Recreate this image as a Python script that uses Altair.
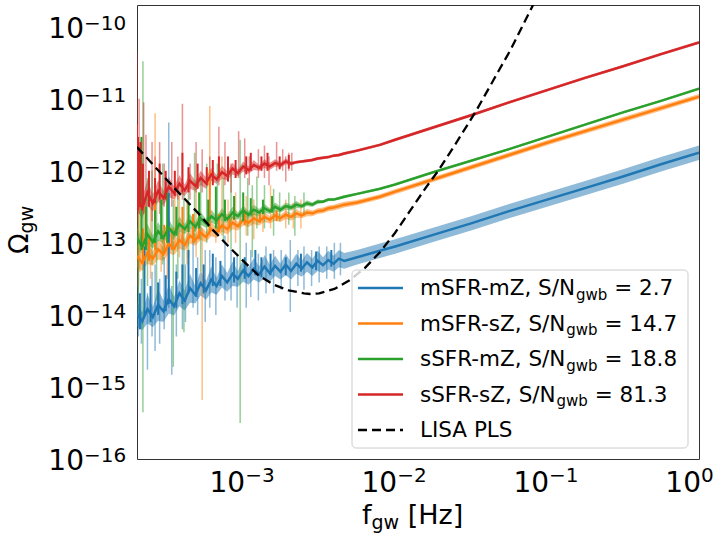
import altair as alt
import pandas as pd

FONT = "DejaVu Sans"
BLUE, ORANGE, GREEN, RED = "#1f77b4", "#ff7f0e", "#2ca02c", "#d62728"

# ---------------- data (log10 values) ----------------
log_f = [-3.700, -3.665, -3.630, -3.595, -3.560, -3.525, -3.490, -3.455, -3.420, -3.385,
         -3.350, -3.315, -3.280, -3.245, -3.210, -3.175, -3.140, -3.105, -3.070, -3.035,
         -3.000, -2.965, -2.930, -2.895, -2.860, -2.825, -2.790, -2.755, -2.720, -2.685,
         -2.650, -2.615, -2.580, -2.545, -2.510, -2.475, -2.440, -2.405, -2.370, -2.335,
         -2.25, -2.10, -2.00, -1.75, -1.50, -1.25, -1.00, -0.75, -0.50, -0.25, 0.00]

red_log = [-12.36, -12.52, -12.30, -12.45, -12.28, -12.38, -12.22, -12.31, -12.18, -12.27,
           -12.14, -12.21, -12.10, -12.17, -12.05, -12.12, -12.02, -12.07, -11.97, -12.03,
           -11.94, -11.99, -11.92, -11.96, -11.90, -11.94, -11.89, -11.92, -11.87, -11.90,
           -11.88, -11.87, -11.86, -11.85, -11.83, -11.82, -11.81, -11.79, -11.78, -11.76,
           -11.72, -11.64, -11.57, -11.40, -11.23, -11.05, -10.88, -10.71, -10.55, -10.38, -10.22]
red_hw = [0.20, 0.14, 0.18, 0.12, 0.15, 0.10, 0.14, 0.09, 0.12, 0.08,
          0.11, 0.07, 0.10, 0.08, 0.09, 0.06, 0.09, 0.06, 0.08, 0.05,
          0.07, 0.05, 0.07, 0.04, 0.06, 0.05, 0.05, 0.04, 0.04, 0.03,
          0.02, 0.02, 0.02, 0.02, 0.02, 0.02, 0.02, 0.02, 0.02, 0.02,
          0.02, 0.02, 0.02, 0.02, 0.02, 0.02, 0.02, 0.02, 0.02, 0.02, 0.02]

green_log = [-12.92, -13.06, -12.88, -12.99, -12.84, -12.93, -12.79, -12.88, -12.74, -12.81,
             -12.70, -12.78, -12.66, -12.73, -12.63, -12.69, -12.60, -12.67, -12.58, -12.63,
             -12.55, -12.61, -12.54, -12.58, -12.52, -12.56, -12.50, -12.54, -12.49, -12.51,
             -12.47, -12.49, -12.45, -12.47, -12.43, -12.43, -12.40, -12.40, -12.38, -12.36,
             -12.32, -12.25, -12.19, -12.02, -11.86, -11.70, -11.53, -11.36, -11.19, -11.03, -10.86]
green_hw = [0.15, 0.10, 0.14, 0.09, 0.13, 0.08, 0.12, 0.08, 0.11, 0.07,
            0.10, 0.07, 0.09, 0.06, 0.09, 0.06, 0.08, 0.06, 0.08, 0.05,
            0.07, 0.05, 0.07, 0.05, 0.06, 0.04, 0.06, 0.04, 0.05, 0.04,
            0.05, 0.03, 0.04, 0.03, 0.03, 0.02, 0.02, 0.02, 0.02, 0.02,
            0.015, 0.015, 0.015, 0.015, 0.015, 0.015, 0.015, 0.015, 0.015, 0.015, 0.015]

orange_log = [-13.18, -13.28, -13.14, -13.22, -13.09, -13.16, -13.02, -13.08, -12.96, -13.03,
              -12.90, -12.96, -12.86, -12.92, -12.81, -12.86, -12.76, -12.81, -12.72, -12.77,
              -12.68, -12.72, -12.66, -12.70, -12.64, -12.68, -12.62, -12.66, -12.61, -12.64,
              -12.59, -12.62, -12.58, -12.59, -12.56, -12.55, -12.52, -12.51, -12.49, -12.47,
              -12.44, -12.36, -12.29, -12.12, -11.95, -11.78, -11.61, -11.45, -11.29, -11.13, -10.97]
orange_hw = [0.16, 0.11, 0.15, 0.10, 0.14, 0.09, 0.13, 0.09, 0.12, 0.08,
             0.11, 0.08, 0.10, 0.07, 0.10, 0.07, 0.09, 0.07, 0.09, 0.06,
             0.08, 0.06, 0.08, 0.06, 0.07, 0.05, 0.07, 0.05, 0.06, 0.05,
             0.06, 0.04, 0.05, 0.04, 0.04, 0.04, 0.04, 0.04, 0.04, 0.04,
             0.035, 0.035, 0.035, 0.035, 0.035, 0.035, 0.035, 0.035, 0.035, 0.035, 0.035]

blue_log = [-13.98, -14.09, -13.92, -14.03, -13.86, -13.95, -13.78, -13.88, -13.70, -13.80,
            -13.63, -13.72, -13.56, -13.66, -13.51, -13.60, -13.46, -13.55, -13.43, -13.50,
            -13.38, -13.46, -13.36, -13.44, -13.33, -13.42, -13.32, -13.40, -13.30, -13.39,
            -13.29, -13.36, -13.27, -13.34, -13.25, -13.31, -13.24, -13.29, -13.22, -13.25,
            -13.20, -13.11, -13.05, -12.89, -12.73, -12.56, -12.40, -12.24, -12.08, -11.91, -11.75]
blue_hw = [0.18, 0.12, 0.20, 0.14, 0.22, 0.15, 0.20, 0.13, 0.18, 0.14,
           0.20, 0.12, 0.17, 0.13, 0.18, 0.12, 0.16, 0.13, 0.17, 0.11,
           0.16, 0.12, 0.15, 0.11, 0.16, 0.12, 0.14, 0.11, 0.15, 0.12,
           0.14, 0.11, 0.13, 0.12, 0.14, 0.11, 0.13, 0.11, 0.12, 0.11,
           0.10, 0.10, 0.10, 0.10, 0.10, 0.10, 0.10, 0.10, 0.10, 0.10, 0.10]

# spikes: (log10 f, log10 low end, log10 high end)
blue_light_spikes = [(-3.69, -14.3, -13.2), (-3.67, -14.4, -13.5), (-3.63, -14.76, -13.7),
                     (-3.60, -14.3, -13.4), (-3.58, -14.5, -13.3), (-3.55, -14.40, -13.5),
                     (-3.52, -14.2, -13.2), (-3.49, -13.9, -11.33), (-3.47, -14.83, -13.6),
                     (-3.44, -14.3, -13.3), (-3.40, -14.2, -12.9), (-3.38, -14.1, -13.3),
                     (-3.33, -13.9, -12.95), (-3.30, -14.0, -13.2), (-3.25, -14.1, -13.1),
                     (-3.22, -13.9, -13.1), (-3.18, -14.0, -13.2), (-3.12, -13.8, -12.9),
                     (-3.08, -13.8, -13.1), (-3.04, -13.9, -13.15), (-2.98, -13.9, -13.0),
                     (-2.95, -13.75, -13.1), (-2.90, -13.8, -13.15), (-2.85, -13.7, -13.05),
                     (-2.80, -13.7, -13.1), (-2.75, -13.65, -13.1), (-2.69, -13.96, -12.96),
                     (-2.64, -13.6, -13.1), (-2.60, -13.65, -13.05), (-2.55, -13.6, -13.1),
                     (-2.50, -13.55, -13.05), (-2.45, -13.5, -13.05), (-2.40, -13.5, -13.0),
                     (-2.36, -13.45, -13.0)]
blue_dark_spikes = [(-3.68, -14.2, -13.7), (-3.65, -14.0, -13.05), (-3.61, -14.1, -13.6),
                    (-3.56, -14.0, -13.55), (-3.51, -13.95, -13.45), (-3.49, -13.85, -12.31),
                    (-3.44, -13.9, -13.4), (-3.40, -13.85, -13.3), (-3.36, -13.7, -13.1),
                    (-3.31, -13.75, -13.35), (-3.26, -13.7, -13.3), (-3.20, -13.6, -13.15),
                    (-3.15, -13.6, -13.25), (-3.06, -13.55, -13.2), (-2.99, -13.5, -13.2),
                    (-2.92, -13.45, -13.1), (-2.88, -13.48, -13.2), (-2.82, -13.45, -13.15),
                    (-2.72, -13.45, -13.2), (-2.62, -13.4, -13.15), (-2.52, -13.38, -13.12),
                    (-2.42, -13.33, -13.1)]
orange_light_spikes = [(-3.69, -13.6, -12.6), (-3.68, -13.4, -12.3), (-3.65, -13.5, -12.4),
                       (-3.61, -13.5, -12.5), (-3.58, -13.2, -11.2), (-3.54, -13.4, -12.3),
                       (-3.50, -13.5, -12.4), (-3.45, -13.1, -12.2), (-3.42, -13.2, -12.3),
                       (-3.37, -13.3, -12.4), (-3.31, -13.2, -12.2), (-3.27, -15.18, -12.8),
                       (-3.22, -12.9, -11.10), (-3.18, -13.0, -12.3), (-3.14, -12.9, -11.8),
                       (-3.10, -13.0, -12.4), (-3.05, -13.0, -12.3), (-2.98, -12.9, -12.35),
                       (-2.93, -12.95, -12.4), (-2.87, -12.85, -12.45), (-2.82, -12.8, -12.2),
                       (-2.72, -12.8, -12.4), (-2.67, -12.8, -12.45), (-2.62, -12.8, -12.4)]
orange_dark_spikes = [(-3.66, -13.3, -12.8), (-3.62, -13.25, -12.9), (-3.58, -13.1, -12.33),
                      (-3.52, -13.15, -12.75), (-3.47, -13.1, -12.8), (-3.40, -13.0, -12.5),
                      (-3.33, -13.0, -12.6), (-3.29, -12.95, -12.7), (-3.22, -12.85, -11.99),
                      (-3.16, -12.85, -12.6), (-3.09, -12.8, -12.6), (-2.99, -12.75, -12.55),
                      (-2.89, -12.72, -12.55), (-2.78, -12.7, -12.55)]
green_light_spikes = [(-3.69, -14.0, -12.4), (-3.66, -15.35, -10.48), (-3.63, -13.6, -12.1),
                      (-3.60, -13.3, -12.0), (-3.57, -13.8, -12.3), (-3.53, -13.3, -11.9),
                      (-3.46, -14.72, -12.4), (-3.43, -13.5, -12.2), (-3.39, -14.24, -12.3),
                      (-3.36, -13.2, -12.0), (-3.32, -13.0, -11.75), (-3.28, -13.4, -12.1),
                      (-3.24, -13.0, -11.9), (-3.17, -12.9, -11.9), (-3.13, -13.0, -12.1),
                      (-3.08, -13.1, -12.0), (-3.02, -15.5, -11.57), (-2.97, -12.9, -12.1),
                      (-2.94, -13.2, -12.2), (-2.91, -12.8, -12.08), (-2.86, -12.8, -12.2),
                      (-2.80, -12.9, -12.25), (-2.76, -12.7, -12.3), (-2.70, -12.75, -12.3),
                      (-2.66, -12.9, -12.35), (-2.60, -12.6, -12.3)]
green_dark_spikes = [(-3.67, -13.1, -11.53), (-3.64, -13.1, -12.5), (-3.58, -13.0, -12.55),
                     (-3.54, -12.95, -12.4), (-3.50, -13.0, -12.3), (-3.44, -12.9, -12.5),
                     (-3.36, -12.85, -12.45), (-3.29, -12.8, -12.3), (-3.23, -12.78, -12.4),
                     (-3.18, -12.8, -12.22), (-3.12, -12.7, -12.4), (-3.06, -12.68, -12.35),
                     (-3.00, -12.7, -12.3), (-2.95, -12.62, -12.38), (-2.87, -12.6, -12.4),
                     (-2.81, -12.58, -12.35)]
red_light_spikes = [(-3.699, -12.7, -10.36), (-3.685, -12.6, -11.0), (-3.655, -12.6, -11.05),
                    (-3.64, -12.6, -11.5), (-3.60, -12.7, -11.6), (-3.58, -12.5, -11.8),
                    (-3.55, -12.6, -11.6), (-3.52, -12.5, -11.9), (-3.47, -12.5, -11.6),
                    (-3.43, -12.4, -11.8), (-3.40, -12.4, -11.07), (-3.35, -12.4, -11.9),
                    (-3.31, -12.3, -11.6), (-3.27, -12.3, -11.7), (-3.22, -12.3, -11.8),
                    (-3.16, -12.2, -11.39), (-3.12, -12.2, -11.6), (-3.08, -12.3, -11.9),
                    (-3.03, -12.1, -11.45), (-2.99, -12.1, -11.55), (-2.96, -12.2, -11.8),
                    (-2.90, -12.1, -11.7), (-2.86, -12.1, -11.65), (-2.83, -12.2, -11.8),
                    (-2.78, -12.0, -11.60), (-2.74, -12.0, -11.7), (-2.72, -12.15, -11.8),
                    (-2.70, -12.0, -11.75), (-2.68, -12.0, -11.75)]
red_dark_spikes = [(-3.699, -12.5, -11.36), (-3.692, -12.55, -11.53), (-3.684, -12.5, -11.67),
                   (-3.676, -12.5, -11.6), (-3.66, -12.5, -11.9), (-3.62, -12.5, -12.0),
                   (-3.58, -12.45, -12.1), (-3.55, -12.4, -11.9), (-3.51, -12.4, -12.0),
                   (-3.45, -12.35, -12.0), (-3.40, -12.3, -11.75), (-3.36, -12.3, -11.95),
                   (-3.30, -12.25, -11.9), (-3.24, -12.2, -11.95), (-3.20, -12.2, -11.85),
                   (-3.16, -12.1, -11.8), (-3.10, -12.15, -11.8), (-3.05, -12.1, -11.85),
                   (-2.98, -12.05, -11.8), (-2.95, -12.0, -11.75), (-2.88, -12.0, -11.8),
                   (-2.84, -12.0, -11.75), (-2.76, -11.98, -11.8), (-2.70, -11.97, -11.78)]

lisa_log_f = [-3.70, -3.60, -3.50, -3.43, -3.30, -3.20, -3.10, -3.00, -2.90, -2.80, -2.70,
              -2.60, -2.56, -2.50, -2.40, -2.30, -2.20, -2.10, -2.00, -1.90, -1.80, -1.72,
              -1.60, -1.47, -1.35, -1.24, -1.09]
lisa_log = [-11.67, -11.90, -12.13, -12.29, -12.58, -12.82, -13.04, -13.25, -13.45, -13.58, -13.66,
            -13.70, -13.71, -13.70, -13.64, -13.52, -13.35, -13.13, -12.86, -12.55, -12.24, -12.01,
            -11.62, -11.18, -10.73, -10.32, -9.69]

legend_names = ["mSFR-mZ", "mSFR-sZ", "sSFR-mZ", "sSFR-sZ"]
legend_snr = ["2.7", "14.7", "18.8", "81.3"]
legend_colors = [BLUE, ORANGE, GREEN, RED]

y_major = [1e-16, 1e-15, 1e-14, 1e-13, 1e-12, 1e-11, 1e-10]
y_major_exp = ["\u221216", "\u221215", "\u221214", "\u221213", "\u221212", "\u221211", "\u221210"]
x_major = [1e-3, 1e-2, 1e-1, 1.0]
x_major_exp = ["\u22123", "\u22122", "\u22121", "0"]

# ---------------- helpers ----------------
X_DOM = [2e-4, 1.0]
Y_DOM = [1e-16, 2e-10]
x_scale = alt.Scale(type="log", domain=X_DOM, nice=False)
y_scale = alt.Scale(type="log", domain=Y_DOM, nice=False)

x_ticks = [m * 10.0 ** e for e in range(-4, 1) for m in range(1, 10)
           if X_DOM[0] * 0.999 <= m * 10.0 ** e <= X_DOM[1] * 1.001]
y_ticks = [m * 10.0 ** e for e in range(-16, -9) for m in range(1, 10)
           if Y_DOM[0] * 0.999 <= m * 10.0 ** e <= 1.001e-10]

major_test = "abs(log(datum.value)/LN10 - round(log(datum.value)/LN10)) < 0.001"
GRID = "#d9d9d9"


def make_axis(vals):
    return alt.Axis(values=vals, labels=False, title=None, domain=False, grid=True,
                    gridColor=GRID, gridWidth=1,
                    gridOpacity={"condition": {"test": major_test, "value": 1}, "value": 0},
                    tickColor="#333333", tickWidth=1,
                    tickSize={"condition": {"test": major_test, "value": 7}, "value": 3.5})


def series_df(lc, hw):
    return pd.DataFrame({
        "f": [10 ** v for v in log_f],
        "y": [10 ** c for c in lc],
        "lo": [10 ** (c - h) for c, h in zip(lc, hw)],
        "hi": [10 ** (c + h) for c, h in zip(lc, hw)],
    })


def spikes_df(sp):
    return pd.DataFrame({"f": [10 ** s[0] for s in sp],
                         "lo": [10 ** s[1] for s in sp],
                         "hi": [10 ** s[2] for s in sp]})


series = [
    (BLUE, blue_log, blue_hw, blue_light_spikes, blue_dark_spikes),
    (ORANGE, orange_log, orange_hw, orange_light_spikes, orange_dark_spikes),
    (GREEN, green_log, green_hw, green_light_spikes, green_dark_spikes),
    (RED, red_log, red_hw, red_light_spikes, red_dark_spikes),
]

layers = []
first = True
# light bands
for col, lc, hw, ls, ds in series:
    df = series_df(lc, hw)
    xa = make_axis(x_ticks) if first else None
    ya = make_axis(y_ticks) if first else None
    layers.append(alt.Chart(df).mark_area(color=col, opacity=0.5, clip=True).encode(
        x=alt.X("f:Q", scale=x_scale, axis=xa),
        y=alt.Y("lo:Q", scale=y_scale, axis=ya),
        y2="hi:Q"))
    first = False
# light spikes
for col, lc, hw, ls, ds in series:
    layers.append(alt.Chart(spikes_df(ls)).mark_rule(color=col, opacity=0.5, strokeWidth=1.5, clip=True).encode(
        x=alt.X("f:Q", scale=x_scale, axis=None),
        y=alt.Y("lo:Q", scale=y_scale, axis=None),
        y2="hi:Q"))
# dark lines + dark spikes
for col, lc, hw, ls, ds in series:
    df = series_df(lc, hw)
    layers.append(alt.Chart(df).mark_line(color=col, strokeWidth=2.5, clip=True).encode(
        x=alt.X("f:Q", scale=x_scale, axis=None),
        y=alt.Y("y:Q", scale=y_scale, axis=None)))
    layers.append(alt.Chart(spikes_df(ds)).mark_rule(color=col, strokeWidth=2, clip=True).encode(
        x=alt.X("f:Q", scale=x_scale, axis=None),
        y=alt.Y("lo:Q", scale=y_scale, axis=None),
        y2="hi:Q"))

# LISA PLS
lisa_df = pd.DataFrame({"f": [10 ** v for v in lisa_log_f], "y": [10 ** v for v in lisa_log]})
layers.append(alt.Chart(lisa_df).mark_line(color="black", strokeWidth=2.3, strokeDash=[9, 5], clip=True).encode(
    x=alt.X("f:Q", scale=x_scale, axis=None),
    y=alt.Y("y:Q", scale=y_scale, axis=None)))

# tick labels (mathtext style 10^{n})
ydf = pd.DataFrame({"v": y_major, "t": y_major_exp})
layers.append(alt.Chart(ydf).mark_text(text="10", font=FONT, fontSize=28, align="right",
                                       baseline="alphabetic", dy=11, color="black").encode(
    x=alt.value(-53), y=alt.Y("v:Q", scale=y_scale, axis=None)))
layers.append(alt.Chart(ydf).mark_text(font=FONT, fontSize=20, align="left",
                                       baseline="alphabetic", dy=3, color="black").encode(
    x=alt.value(-53), y=alt.Y("v:Q", scale=y_scale, axis=None), text="t:N"))
xdf = pd.DataFrame({"v": x_major, "t": x_major_exp})
layers.append(alt.Chart(xdf).mark_text(text="10", font=FONT, fontSize=28, align="right",
                                       baseline="alphabetic", dx=2, color="black").encode(
    x=alt.X("v:Q", scale=x_scale, axis=None), y=alt.value(487)))
layers.append(alt.Chart(xdf).mark_text(font=FONT, fontSize=20, align="left",
                                       baseline="alphabetic", dx=2, color="black").encode(
    x=alt.X("v:Q", scale=x_scale, axis=None), y=alt.value(477), text="t:N"))

one = pd.DataFrame({"k": [0]})


def label(txt, x, y, size, angle=0):
    return alt.Chart(one).mark_text(text=txt, font=FONT, fontSize=size, align="left",
                                    baseline="alphabetic", angle=angle, color="black").encode(
        x=alt.value(x), y=alt.value(y))


# axis titles
layers.append(label("f", 225, 519, 27))
layers.append(label("gw", 234.5, 524, 19))
layers.append(label("[Hz]", 270.7, 519, 27))
layers.append(label("\u03a9", -109, 249, 27, angle=270))
layers.append(label("gw", -104, 228.4, 19, angle=270))

# legend
layers.append(alt.Chart(one).mark_rect(fill="white", fillOpacity=0.8, stroke="#cccccc",
                                       strokeWidth=1, cornerRadius=4).encode(
    x=alt.value(215), x2=alt.value(551), y=alt.value(265), y2=alt.value(443)))

ADV = {" ": 0.318, ",": 0.318, "-": 0.361, ".": 0.318, "/": 0.337, "=": 0.838,
       "F": 0.575, "N": 0.748, "R": 0.695, "S": 0.635, "Z": 0.685, "m": 0.974,
       "s": 0.521, "g": 0.635, "w": 0.818, "b": 0.635}
for d in "0123456789":
    ADV[d] = 0.636


def tw(s, size):
    return sum(ADV.get(c, 0.6) for c in s) * size


LEG_SIZE, SUB_SIZE = 21.5, 15
x0 = 283
for i, (nm, snr, col) in enumerate(zip(legend_names, legend_snr, legend_colors)):
    base = 290 + 35.5 * i
    layers.append(alt.Chart(one).mark_rule(color=col, strokeWidth=2.5).encode(
        x=alt.value(221), x2=alt.value(266), y=alt.value(base - 7)))
    main = f"{nm}, S/N"
    layers.append(label(main, x0, base, LEG_SIZE))
    xs = x0 + tw(main, LEG_SIZE)
    layers.append(label("gwb", xs, base + 4.5, SUB_SIZE))
    xr = xs + tw("gwb", SUB_SIZE) + tw(" ", LEG_SIZE)
    layers.append(label("= " + snr, xr, base, LEG_SIZE))

base5 = 290 + 35.5 * 4
layers.append(alt.Chart(one).mark_rule(color="black", strokeWidth=2.3, strokeDash=[9, 5]).encode(
    x=alt.value(221), x2=alt.value(266), y=alt.value(base5 - 7)))
layers.append(label("LISA PLS", x0, base5, LEG_SIZE))

chart = alt.layer(*layers).properties(
    width=562, height=454,
    padding={"left": 137, "top": 5, "right": 23, "bottom": 77},
    autosize=alt.AutoSizeParams(type="none"),
).configure_view(stroke="#333333", strokeWidth=1)

chart.save("out.html", embed_options={"renderer": "svg", "actions": False})
